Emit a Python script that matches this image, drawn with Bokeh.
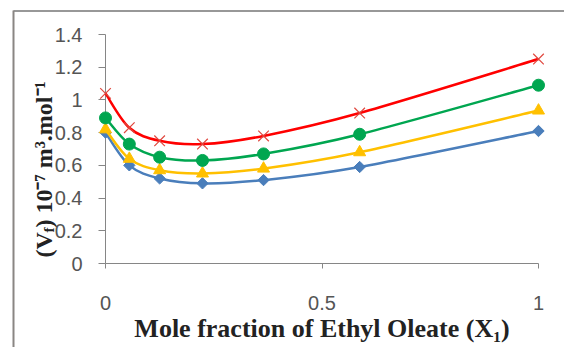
import math
from bokeh.plotting import figure
from bokeh.models import Range1d, FixedTicker, Label, BoxAnnotation
from bokeh.embed import file_html
from bokeh.resources import INLINE

# ---- data ----
x_frac = [0.0, 0.055, 0.125, 0.224, 0.365, 0.587, 1.0]
red_vals = [1.04, 0.83, 0.75, 0.73, 0.78, 0.92, 1.25]
green_vals = [0.89, 0.73, 0.65, 0.63, 0.67, 0.79, 1.09]
yellow_vals = [0.82, 0.64, 0.57, 0.55, 0.58, 0.68, 0.935]
blue_vals = [0.80, 0.60, 0.52, 0.49, 0.51, 0.59, 0.81]

x_ticks = [0, 0.5, 1]
x_tick_labels = ["0", "0.5", "1"]
y_ticks = [0, 0.2, 0.4, 0.6, 0.8, 1.0, 1.2, 1.4]
y_tick_labels = ["0", "0.2", "0.4", "0.6", "0.8", "1", "1.2", "1.4"]

x_title = "Mole fraction of Ethyl Oleate (X\u2081)"

# ---- layout (pixels) ----
W, H = 564, 347
PX_L, PX_R = 105, 538      # canvas x of x=0 and x=1
PY_B, PY_T = 263, 34       # canvas y of y=0 and y=1.4
sx = (PX_R - PX_L) / 1.0
sy = (PY_B - PY_T) / 1.4

# The frame covers the whole canvas; axes are pinned at x=0 / y=0 and bounded.
p = figure(width=W, height=H, output_backend="svg", toolbar_location=None,
           x_range=Range1d(-PX_L / sx, 1 + (W - PX_R) / sx),
           y_range=Range1d(-(H - PY_B) / sy, 1.4 + PY_T / sy),
           min_border_left=0, min_border_right=0, min_border_top=0, min_border_bottom=0)
p.outline_line_color = None
p.xgrid.visible = False
p.ygrid.visible = False
p.background_fill_color = "white"
p.border_fill_color = "white"


def smooth_segments(xs, ys):
    """Excel-like smoothing: cubic Bezier segments through the data points."""
    n = len(xs)
    x0, y0, x1, y1, cx0, cy0, cx1, cy1 = [], [], [], [], [], [], [], []
    for i in range(n - 1):
        im = max(i - 1, 0)
        ip2 = min(i + 2, n - 1)
        x0.append(xs[i]); y0.append(ys[i])
        x1.append(xs[i + 1]); y1.append(ys[i + 1])
        cx0.append(xs[i] + (xs[i + 1] - xs[im]) / 6.0)
        cy0.append(ys[i] + (ys[i + 1] - ys[im]) / 6.0)
        cx1.append(xs[i + 1] - (xs[ip2] - xs[i]) / 6.0)
        cy1.append(ys[i + 1] - (ys[ip2] - ys[i]) / 6.0)
    return dict(x0=x0, y0=y0, x1=x1, y1=y1, cx0=cx0, cy0=cy0, cx1=cx1, cy1=cy1)


axis_col = "#868686"
tick_col = "#555555"
for ax in (p.xaxis[0], p.yaxis[0]):
    ax.axis_line_color = axis_col
    ax.major_tick_line_color = axis_col
    ax.minor_tick_line_color = None
    ax.major_tick_in = 0
    ax.major_label_text_font = "Liberation Sans"
    ax.major_label_text_font_size = "20px"
    ax.major_label_text_color = tick_col
    ax.level = "underlay"

p.xaxis.ticker = FixedTicker(ticks=x_ticks)
p.xaxis.fixed_location = 0
p.xaxis.bounds = (0, 1)
p.xaxis.major_label_overrides = {t: l for t, l in zip(x_ticks, x_tick_labels)}
p.xaxis.major_tick_out = 5
p.xaxis.major_label_standoff = 27
p.xaxis.axis_label = x_title
p.xaxis.axis_label_text_font = "Liberation Serif"
p.xaxis.axis_label_text_font_style = "bold"
p.xaxis.axis_label_text_font_size = "26px"
p.xaxis.axis_label_text_color = "#222222"
p.xaxis.axis_label_standoff = 1

p.yaxis.ticker = FixedTicker(ticks=y_ticks)
p.yaxis.fixed_location = 0
p.yaxis.bounds = (0, 1.4)
p.yaxis.major_label_overrides = {t: l for t, l in zip(y_ticks, y_tick_labels)}
p.yaxis.major_tick_out = 7
p.yaxis.major_label_standoff = 16

series = [
    (blue_vals, "#4A7EBB", "square", 8, math.pi / 4),
    (yellow_vals, "#FFC000", "triangle", 12, 0),
    (green_vals, "#00A650", "circle", 12, 0),
    (red_vals, "#FF0000", "x", 15, 0),
]
for vals, col, mk, sz, ang in series:
    p.bezier(line_color=col, line_width=2.5, **smooth_segments(x_frac, vals))
    if mk == "x":
        p.scatter(x_frac, vals, marker="x", size=sz, line_color="#E0483F", line_width=1.2)
    else:
        p.scatter(x_frac, vals, marker=mk, size=sz, angle=ang, fill_color=col,
                  line_color=col)

# y-axis title built from pieces (subscript f)
ttl = dict(x_units="canvas", y_units="canvas", angle=math.pi / 2,
           text_font="Liberation Serif", text_font_style="bold",
           text_color="#222222", text_align="left", text_baseline="alphabetic")
p.add_layout(Label(x=43, y=257, text="(V", text_font_size="24px", **ttl))
p.add_layout(Label(x=48, y=232, text="f", text_font_size="15px", **ttl))
p.add_layout(Label(x=43, y=227, text=") 10\u207b\u2077 m\u00b3.mol\u207b\u00b9",
                   text_font_size="24px", **ttl))

# outer chart frame (top and left edges visible)
p.add_layout(BoxAnnotation(left=13, right=W, top=10, bottom=11,
                           left_units="canvas", right_units="canvas",
                           top_units="canvas", bottom_units="canvas",
                           fill_color="#333333", fill_alpha=1, line_color=None))
p.add_layout(BoxAnnotation(left=12, right=14, top=10, bottom=H,
                           left_units="canvas", right_units="canvas",
                           top_units="canvas", bottom_units="canvas",
                           fill_color="#8A8683", fill_alpha=1, line_color=None))

open("out.html", "w").write(file_html(p, INLINE))
